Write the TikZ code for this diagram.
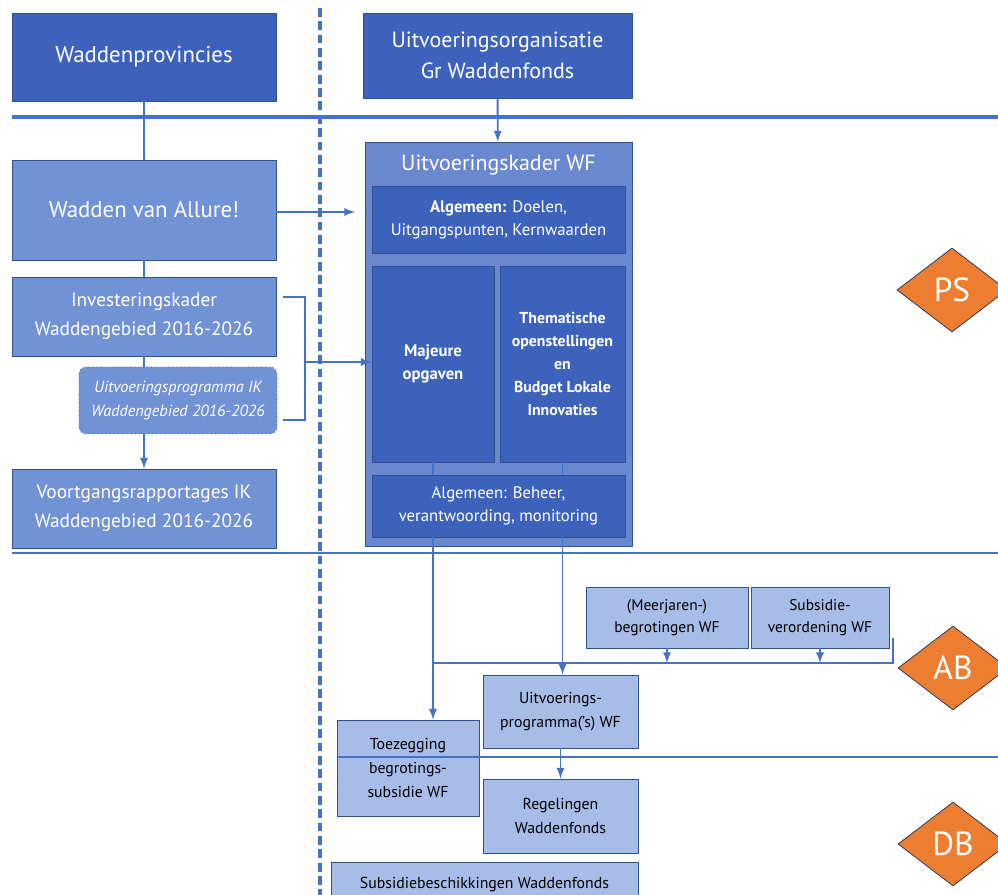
\documentclass[tikz,border=0pt]{standalone}
\usepackage{fontspec}
\setmainfont{PT Sans}
\usetikzlibrary{shapes.geometric}

\definecolor{wfdark}{RGB}{60,98,188}
\definecolor{wfmid}{RGB}{114,146,214}
\definecolor{wfkader}{RGB}{106,136,208}
\definecolor{wflight}{RGB}{168,188,232}
\definecolor{wfline}{RGB}{68,114,196}
\definecolor{wfedge}{RGB}{47,82,143}
\definecolor{wforange}{RGB}{237,125,49}

\begin{document}
\begin{tikzpicture}[>=latex,
    darkbox/.style={draw=wfedge, fill=wfdark, text=white, align=center, inner sep=1pt},
    midbox/.style={draw=wfedge, fill=wfmid, text=white, align=center, inner sep=1pt},
    lightbox/.style={draw=wfedge, fill=wflight, text=black, align=center, inner sep=1pt},
    orgaan/.style={diamond, draw=wfedge!60!black, fill=wforange, text=white, minimum width=2.2cm,
      minimum height=1.68cm, inner sep=0pt, font=\fontsize{19}{21}\selectfont},
    link/.style={draw=wfline, line width=1.1pt}]

  \useasboundingbox (0,0) rectangle (19.96,-17.9);

  % linker kolom
  \node (wadprov) [darkbox, minimum width=5.28cm, minimum height=1.76cm, font=\fontsize{13}{18}\selectfont]
    at (2.88,-1.14) {Waddenprovincies};
  \node (allure) [midbox, minimum width=5.28cm, minimum height=2cm, font=\fontsize{13}{18}\selectfont]
    at (2.88,-4.2) {Wadden van Allure!};
  \node (invest) [midbox, minimum width=5.28cm, minimum height=1.58cm, font=\fontsize{11}{16.5}\selectfont]
    at (2.88,-6.33) {Investeringskader\\Waddengebied 2016-2026};
  \node (uitvik) [midbox, dotted, rounded corners=4pt, minimum width=3.96cm, minimum height=1.34cm,
    font=\fontsize{9.2}{14}\selectfont\itshape] at (3.56,-8.01) {Uitvoeringsprogramma IK\\Waddengebied 2016-2026};
  \node (voortgang) [midbox, minimum width=5.28cm, minimum height=1.58cm, font=\fontsize{11}{16.5}\selectfont]
    at (2.88,-10.17) {Voortgangsrapportages IK\\Waddengebied 2016-2026};

  % uitvoeringskader
  \node (org) [darkbox, minimum width=5.38cm, minimum height=1.7cm, font=\fontsize{12.5}{18}\selectfont]
    at (9.95,-1.11) {Uitvoeringsorganisatie\\Gr Waddenfonds};
  \node (kader) [draw=wfedge, fill=wfkader, minimum width=5.34cm, minimum height=8.08cm] at (9.97,-6.88) {};
  \node (kadertitel) [text=white, font=\fontsize{12.5}{15}\selectfont] at (9.97,-3.3) {Uitvoeringskader WF};
  \node (doelen) [darkbox, minimum width=5.06cm, minimum height=1.34cm, font=\fontsize{9.5}{13}\selectfont]
    at (9.97,-4.39) {\textbf{Algemeen:} Doelen,\\Uitgangspunten, Kernwaarden};
  \node (majeure) [darkbox, minimum width=2.44cm, minimum height=3.92cm, font=\fontsize{9.5}{13}\selectfont\bfseries]
    at (8.66,-7.28) {Majeure\\opgaven};
  \node (themat) [darkbox, minimum width=2.5cm, minimum height=3.92cm, font=\fontsize{9}{13}\selectfont\bfseries]
    at (11.25,-7.28) {Thematische\\openstellingen\\en\\Budget Lokale\\Innovaties};
  \node (beheer) [darkbox, minimum width=5.06cm, minimum height=1.24cm, font=\fontsize{9.5}{13}\selectfont]
    at (9.97,-10.12) {Algemeen: Beheer,\\verantwoording, monitoring};

  % AB en DB
  \node (meerjaren) [lightbox, minimum width=3.24cm, minimum height=1.22cm, font=\fontsize{8.8}{12.5}\selectfont]
    at (13.34,-12.35) {(Meerjaren-)\\begrotingen WF};
  \node (verordening) [lightbox, minimum width=2.76cm, minimum height=1.22cm, font=\fontsize{8.8}{12.5}\selectfont]
    at (16.4,-12.35) {Subsidie-\\verordening WF};
  \node (uitvprog) [lightbox, minimum width=3.1cm, minimum height=1.46cm, font=\fontsize{9}{13.5}\selectfont]
    at (11.21,-14.23) {Uitvoerings-\\programma('s) WF};
  \node (toezeg) [lightbox, minimum width=2.84cm, minimum height=1.92cm, font=\fontsize{9}{13.5}\selectfont]
    at (8.16,-15.36) {Toezegging\\begrotings-\\subsidie WF};
  \node (regeling) [lightbox, minimum width=3.1cm, minimum height=1.48cm, font=\fontsize{9}{13.5}\selectfont]
    at (11.21,-16.32) {Regelingen\\Waddenfonds};
  \node (beschik) [lightbox, minimum width=6.14cm, minimum height=0.9cm, font=\fontsize{9}{13.5}\selectfont]
    at (9.69,-17.7) {Subsidiebeschikkingen Waddenfonds};

  \node (ps) [orgaan] at (19.04,-5.8) {PS};
  \node (ab) [orgaan] at (19.06,-13.36) {AB};
  \node (db) [orgaan] at (19.06,-16.88) {DB};

  % scheidingslijnen
  \coordinate (psl) at (0.24,-2.34);
  \coordinate (psr) at (19.96,-2.34);
  \coordinate (abl) at (0.24,-11.06);
  \coordinate (abr) at (19.96,-11.06);
  \coordinate (dbl) at (6.74,-15.14);
  \coordinate (dbr) at (19.96,-15.14);
  \coordinate (sch1) at (6.4,-0.16);
  \coordinate (sch2) at (6.4,-17.9);
  \draw[wfline, line width=2.3pt] (psl) -- (psr);
  \draw[wfline, line width=0.8pt] (abl) -- (abr);
  \draw[wfline, line width=0.8pt] (dbl) -- (dbr);
  \draw[wfline, line width=2pt, dash pattern=on 5pt off 2.6pt] (sch1) -- (sch2);

  % verbindingen links
  \draw[link] (wadprov) -- (allure);
  \draw[link] (allure) -- (invest);
  \draw[link] (invest.south) -- (invest.south |- uitvik.north);
  \draw[link,->] (invest.south |- uitvik.south) -- (voortgang.north);

  \coordinate (allpijl) at (7.1,-4.24);
  \draw[link,->] (allure.east |- allpijl) -- (allpijl);

  \coordinate (bra) at (5.66,-5.94);
  \coordinate (brb) at (6.1,-5.94);
  \coordinate (brc) at (6.1,-8.4);
  \coordinate (brd) at (5.66,-8.4);
  \coordinate (brm) at (6.1,-7.24);
  \draw[link, line width=1.6pt] (bra) -- (brb) -- (brc) -- (brd);
  \draw[link,->] (brm) -- (brm -| majeure.west);

  % verbindingen rechts
  \draw[link,->] (org) -- (kader);
  \draw[link] (majeure.south) -- (majeure.south |- beheer.north);
  \draw[link] (themat.south) -- (themat.south |- beheer.north);
  \draw[link,->] (majeure.south |- beheer.south) -- (majeure.south |- toezeg.north);
  \draw[link,->] (themat.south |- beheer.south) -- (themat.south |- uitvprog.north);

  \coordinate (verz) at (17.86,-13.26);
  \coordinate (verztop) at (17.86,-12.76);
  \draw[link] (majeure.south |- verz) -- (verz) -- (verztop);
  \draw[link,->] (meerjaren.south) -- (meerjaren.south |- verz);
  \draw[link,->] (verordening.south) -- (verordening.south |- verz);
  \draw[link,->] (uitvprog) -- (regeling);
\end{tikzpicture}
\end{document}
